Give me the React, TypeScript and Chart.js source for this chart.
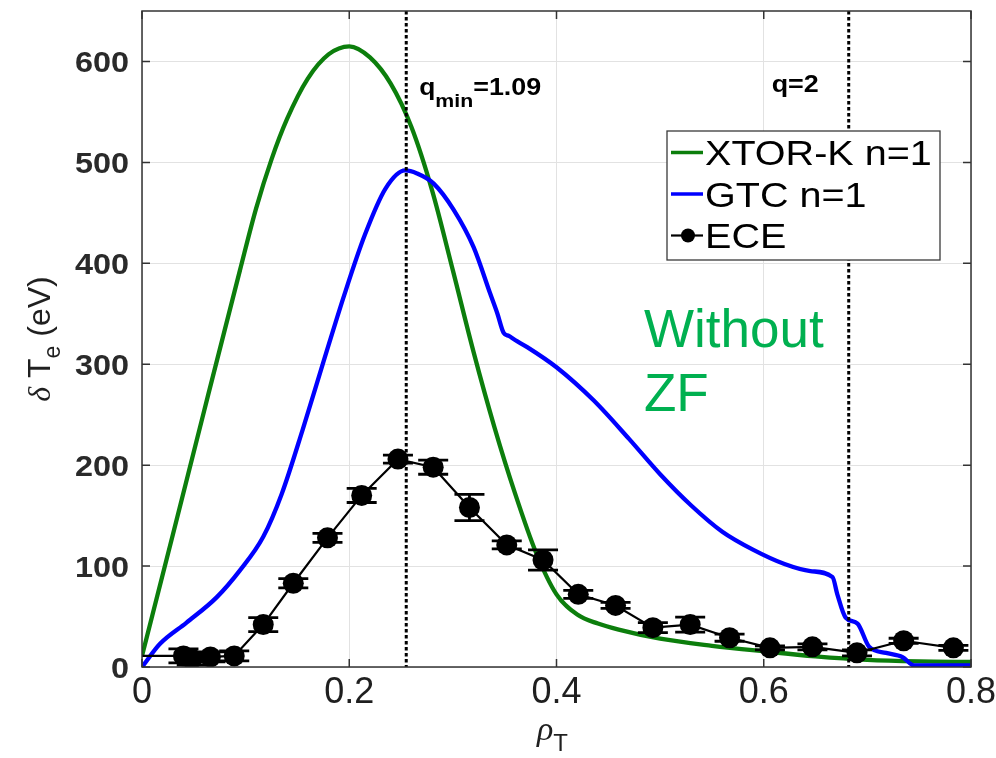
import React, { useEffect, useRef } from "react";
import { Chart, registerables } from "chart.js";

Chart.register(...registerables);

// Normalised toroidal radius and perturbed electron temperature (eV)
const xtorRho = [0, 0.03, 0.06, 0.0945, 0.11, 0.125, 0.14, 0.16, 0.18, 0.20, 0.22, 0.24, 0.26, 0.28, 0.30, 0.32, 0.34, 0.36, 0.38, 0.40, 0.42, 0.44, 0.46, 0.50, 0.55, 0.60, 0.65, 0.70, 0.75, 0.80];
const xtorDTe = [11, 132, 254, 393, 454, 503, 543, 583, 607, 615, 604, 578, 535, 472, 393, 312, 238, 172, 114, 72, 52, 43, 37, 28, 21, 15.5, 10.5, 7, 5.5, 5];

const gtcRho = [0, 0.0174, 0.043, 0.072, 0.0947, 0.117, 0.135, 0.155, 0.175, 0.195, 0.215, 0.235, 0.254, 0.2654, 0.2815, 0.3008, 0.320, 0.336, 0.343, 0.349, 0.354, 0.36, 0.3717, 0.40, 0.436, 0.47, 0.50, 0.53, 0.56, 0.59, 0.62, 0.645, 0.6664, 0.671, 0.679, 0.6905, 0.7017, 0.718, 0.734, 0.745, 0.8];
const gtcDTe = [0, 23, 44, 69, 96, 129, 172, 235, 302, 368, 428, 474, 492, 489, 479, 453, 416, 370, 350, 331, 328, 324, 317, 297, 264, 226, 191, 160, 134, 116, 102, 95, 89, 72, 49, 43, 20, 14, 9.7, 1.5, 1.5];

const eceRho = [0, 0.040, 0.048, 0.066, 0.089, 0.117, 0.146, 0.179, 0.212, 0.247, 0.281, 0.316, 0.352, 0.387, 0.421, 0.457, 0.493, 0.529, 0.567, 0.606, 0.647, 0.690, 0.735, 0.783];
const eceDTe = [11, 11, 8, 10, 11, 42, 83, 128, 170, 206, 198, 158, 121, 106, 72, 61, 39, 42, 29, 19, 20, 14, 26, 19];
const eceErr = [0, 7, 6, 5, 5, 7, 4.5, 4.5, 7, 4, 7, 13, 4, 10, 4, 3, 5, 7.5, 3.5, 2, 3, 3, 2.5, 2.5];

// Rational surfaces: q_min and q = 2
const qSurfaceRho = [0.255, 0.682];
const qSurfaceNames = ["qmin", "q2"];

const seriesNames = ["XTOR-K n=1", "GTC n=1", "ECE"];
const noteLines = ["Without", "ZF"];

const SANS = '"Liberation Sans", Arial, Helvetica, sans-serif';
const SERIF = '"Liberation Serif", "DejaVu Serif", serif';
const INK = "#1f1f1f";
const GREEN = "#0c7e0c";
const BLUE = "#0000ff";
const NOTE_GREEN = "#00b050";

type Run = { text: string; font: string; dy?: number; sx?: number; color?: string };

function runWidth(ctx: CanvasRenderingContext2D, r: Run) {
  ctx.font = r.font;
  return ctx.measureText(r.text).width * (r.sx ?? 1);
}

function drawRuns(
  ctx: CanvasRenderingContext2D,
  runs: Run[],
  x: number,
  y: number,
  align: "left" | "center" | "right",
  color: string
) {
  const total = runs.reduce((w, r) => w + runWidth(ctx, r), 0);
  let cx = align === "center" ? x - total / 2 : align === "right" ? x - total : x;
  for (const r of runs) {
    const w = runWidth(ctx, r);
    ctx.save();
    ctx.font = r.font;
    ctx.fillStyle = r.color ?? color;
    ctx.textAlign = "left";
    ctx.textBaseline = "alphabetic";
    ctx.translate(cx, y + (r.dy ?? 0));
    ctx.scale(r.sx ?? 1, 1);
    ctx.fillText(r.text, 0, 0);
    ctx.restore();
    cx += w;
  }
}

const decorations = {
  id: "decorations",
  afterDraw(chart: any) {
    const { ctx, chartArea: a } = chart;
    const xs = chart.scales.x;
    const ys = chart.scales.y;

    // error bars on the ECE profile
    ctx.save();
    ctx.beginPath();
    ctx.rect(a.left, a.top, a.right - a.left, a.bottom - a.top);
    ctx.clip();
    ctx.strokeStyle = "#000";
    ctx.lineWidth = 2.8;
    const cap = 15;
    eceRho.forEach((r, i) => {
      const e = eceErr[i];
      if (!e) return;
      const px = xs.getPixelForValue(r);
      const lo = ys.getPixelForValue(eceDTe[i] - e);
      const hi = ys.getPixelForValue(eceDTe[i] + e);
      ctx.beginPath();
      ctx.moveTo(px, lo);
      ctx.lineTo(px, hi);
      ctx.moveTo(px - cap, lo);
      ctx.lineTo(px + cap, lo);
      ctx.moveTo(px - cap, hi);
      ctx.lineTo(px + cap, hi);
      ctx.stroke();
    });

    // dotted markers for the q surfaces
    ctx.setLineDash([3.5, 2.5]);
    ctx.lineWidth = 3;
    qSurfaceRho.forEach((r) => {
      const px = xs.getPixelForValue(r);
      ctx.beginPath();
      ctx.moveTo(px, a.top);
      ctx.lineTo(px, a.bottom);
      ctx.stroke();
    });
    ctx.restore();

    // axes box with inward ticks on all sides
    ctx.save();
    ctx.strokeStyle = "#333";
    ctx.lineWidth = 1.5;
    ctx.strokeRect(a.left, a.top, a.right - a.left, a.bottom - a.top);
    const tl = 8;
    ctx.beginPath();
    ys.ticks.forEach((t: any) => {
      const py = ys.getPixelForValue(t.value);
      ctx.moveTo(a.left, py);
      ctx.lineTo(a.left + tl, py);
      ctx.moveTo(a.right, py);
      ctx.lineTo(a.right - tl, py);
    });
    xs.ticks.forEach((t: any) => {
      const px = xs.getPixelForValue(t.value);
      ctx.moveTo(px, a.bottom);
      ctx.lineTo(px, a.bottom - tl);
      ctx.moveTo(px, a.top);
      ctx.lineTo(px, a.top + tl);
    });
    ctx.stroke();
    ctx.restore();

    // tick labels
    const yFont = `bold 30px ${SANS}`;
    ys.ticks.forEach((t: any) => {
      const py = ys.getPixelForValue(t.value);
      drawRuns(ctx, [{ text: String(t.label), font: yFont, sx: 1.08 }], a.left - 13, py + (0.716 * 30) / 2, "right", "#2a2a2a");
    });
    const xFont = `36px ${SANS}`;
    xs.ticks.forEach((t: any) => {
      const px = xs.getPixelForValue(t.value);
      drawRuns(ctx, [{ text: String(t.label), font: xFont }], px, a.bottom + 36, "center", INK);
    });

    // axis titles
    drawRuns(
      ctx,
      [
        { text: "\u03C1", font: `italic 34px ${SERIF}` },
        { text: "T", font: `24px ${SANS}`, dy: 11 },
      ],
      (a.left + a.right) / 2 - 4,
      a.bottom + 73,
      "center",
      INK
    );
    ctx.save();
    ctx.translate(50, (a.top + a.bottom) / 2);
    ctx.rotate(-Math.PI / 2);
    drawRuns(
      ctx,
      [
        { text: "\u03B4", font: `italic 32px ${SERIF}` },
        { text: " T", font: `32px ${SANS}` },
        { text: "e", font: `23px ${SANS}`, dy: 10 },
        { text: " (eV)", font: `32px ${SANS}` },
      ],
      0,
      0,
      "center",
      INK
    );
    ctx.restore();

    // q surface labels
    const qmPx = xs.getPixelForValue(qSurfaceRho[qSurfaceNames.indexOf("qmin")]);
    drawRuns(
      ctx,
      [
        { text: "q", font: `bold 24px ${SANS}`, sx: 1.1 },
        { text: "min", font: `bold 19px ${SANS}`, sx: 1.12, dy: 12 },
        { text: "=1.09", font: `bold 24px ${SANS}`, sx: 1.12 },
      ],
      qmPx + 13,
      95,
      "left",
      "#000"
    );
    const q2Px = xs.getPixelForValue(qSurfaceRho[qSurfaceNames.indexOf("q2")]);
    drawRuns(ctx, [{ text: "q=2", font: `bold 24px ${SANS}`, sx: 1.12 }], q2Px - 30, 92, "right", "#000");

    // "Without ZF" note
    drawRuns(ctx, [{ text: noteLines[0], font: `53px ${SANS}` }], 644, 347, "left", NOTE_GREEN);
    drawRuns(ctx, [{ text: noteLines[1], font: `53px ${SANS}` }], 644, 411, "left", NOTE_GREEN);

    // legend
    ctx.save();
    const bx = 667, by = 131, bw = 273, bh = 129;
    ctx.fillStyle = "#fff";
    ctx.fillRect(bx, by, bw, bh);
    ctx.strokeStyle = "#3a3a3a";
    ctx.lineWidth = 1.3;
    ctx.strokeRect(bx, by, bw, bh);
    const colors = [GREEN, BLUE, "#000"];
    const baselines = [165, 206.5, 248];
    seriesNames.forEach((name, i) => {
      const ly = baselines[i] - 12.5;
      ctx.strokeStyle = colors[i];
      ctx.lineWidth = i === 2 ? 2.2 : 3.5;
      ctx.beginPath();
      ctx.moveTo(bx + 4, ly);
      ctx.lineTo(bx + 36, ly);
      ctx.stroke();
      if (i === 2) {
        ctx.fillStyle = "#000";
        ctx.beginPath();
        ctx.arc(bx + 21, ly, 7, 0, Math.PI * 2);
        ctx.fill();
      }
      drawRuns(ctx, [{ text: name, font: `35px ${SANS}`, sx: 1.13 }], bx + 38, baselines[i], "left", "#000");
    });
    ctx.restore();
  },
};

export default function App() {
  const canvasRef = useRef<HTMLCanvasElement | null>(null);

  useEffect(() => {
    const canvas = canvasRef.current;
    if (!canvas) return;
    const chart = new Chart(canvas, {
      type: "scatter",
      data: {
        datasets: [
          {
            label: seriesNames[0],
            data: xtorRho.map((r, i) => ({ x: r, y: xtorDTe[i] })),
            showLine: true,
            borderColor: GREEN,
            borderWidth: 4.3,
            pointRadius: 0,
            cubicInterpolationMode: "monotone",
            order: 3,
          },
          {
            label: seriesNames[1],
            data: gtcRho.map((r, i) => ({ x: r, y: gtcDTe[i] })),
            showLine: true,
            borderColor: BLUE,
            borderWidth: 4.3,
            pointRadius: 0,
            cubicInterpolationMode: "monotone",
            borderJoinStyle: "round",
            order: 2,
          },
          {
            label: seriesNames[2],
            data: eceRho.map((r, i) => ({ x: r, y: eceDTe[i] })),
            showLine: true,
            borderColor: "#000",
            borderWidth: 2.2,
            pointRadius: (c: any) => (c.dataIndex === 0 ? 0 : 10.5),
            pointBackgroundColor: "#000",
            pointBorderColor: "#000",
            pointBorderWidth: 0,
            order: 1,
          },
        ] as any,
      },
      options: {
        responsive: false,
        animation: false,
        devicePixelRatio: 1,
        layout: { padding: { left: 142, top: 11, right: 25, bottom: 91 } },
        plugins: { legend: { display: false }, tooltip: { enabled: false } },
        scales: {
          x: {
            type: "linear",
            min: 0,
            max: 0.8,
            ticks: { stepSize: 0.2, display: false },
            grid: { color: "#e2e2e2", lineWidth: 1, drawTicks: false },
            border: { display: false },
            afterFit: (s: any) => {
              s.height = 0;
            },
          },
          y: {
            type: "linear",
            min: 0,
            max: 650,
            ticks: { stepSize: 100, display: false, includeBounds: false } as any,
            grid: { color: "#e2e2e2", lineWidth: 1, drawTicks: false },
            border: { display: false },
            afterFit: (s: any) => {
              s.width = 0;
            },
          },
        },
      } as any,
      plugins: [decorations],
    });
    return () => chart.destroy();
  }, []);

  return (
    <div style={{ position: "absolute", left: 0, top: 0, width: 996, height: 758, background: "#fff" }}>
      <canvas ref={canvasRef} width={996} height={758} style={{ display: "block" }} />
    </div>
  );
}
